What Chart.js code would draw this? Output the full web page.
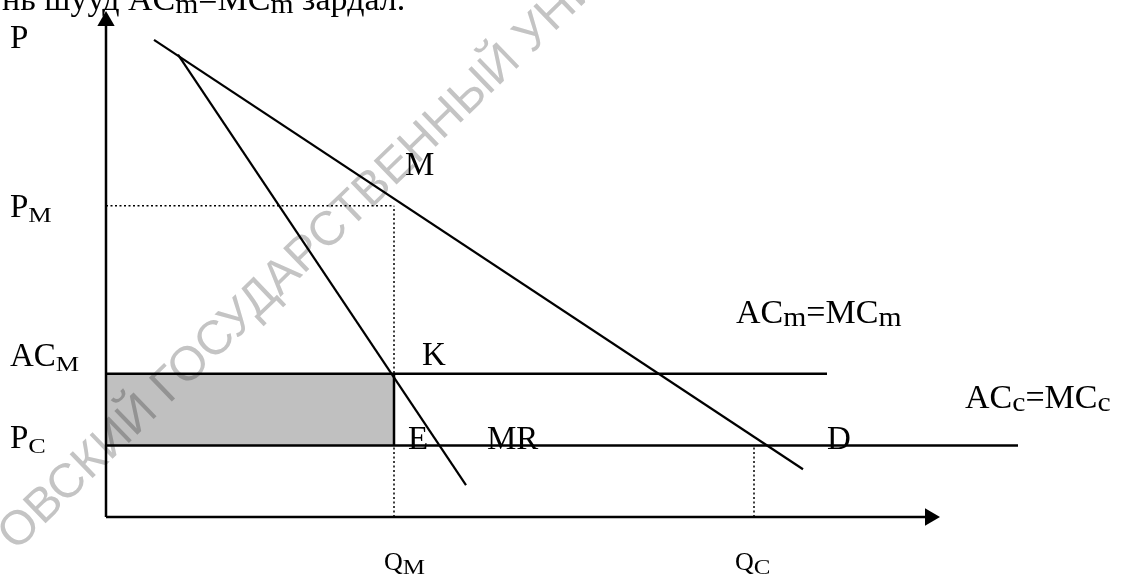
<!DOCTYPE html>
<html>
<head>
<meta charset="utf-8">
<script src="https://cdn.jsdelivr.net/npm/chart.js@4.4.0/dist/chart.umd.min.js"></script>
<style>
    html, body { margin: 0; padding: 0; background: #fff; }
    #wrap { width: 1121px; height: 580px; }
</style>
</head>
<body>
<div id="wrap"><canvas id="chart" width="1121" height="580"></canvas></div>
<script>
// Monopoly vs. competitive market (values in chart units, origin at axes corner)
const demandQ = [4.8, 69.7];
const demandP = [48.0, 4.8];
const mrQ = [7.2, 36.0];
const mrP = [46.5, 3.2];
const costLevels = [14.4, 7.2];        // AC_M = MC_M, P_C = AC_c = MC_c
const costLineEnds = [72.1, 91.2];
const priceMonopoly = 31.3;
const qMonopoly = 28.8;
const qCompetitive = 64.8;
const axisEnds = [82.4, 49.9];         // centres of the x / y arrowheads

// Text labels: parts are [text, isSubscript], anchored in chart units
const labelItems = [
    { parts: [['P']], x: -9.6, y: 47.2, style: 'big' },
    { parts: [['P'], ['M', 1]], x: -9.6, y: 30.2, style: 'big' },
    { parts: [['AC'], ['M', 1]], x: -9.6, y: 15.2, style: 'big' },
    { parts: [['P'], ['C', 1]], x: -9.6, y: 6.9, style: 'big' },
    { parts: [['M']], x: 29.9, y: 34.4, style: 'big' },
    { parts: [['K']], x: 31.6, y: 15.3, style: 'big' },
    { parts: [['E']], x: 30.2, y: 6.8, style: 'big' },
    { parts: [['MR']], x: 38.1, y: 6.8, style: 'big' },
    { parts: [['D']], x: 72.1, y: 6.8, style: 'big' },
    { parts: [['AC'], ['m', 1], ['=MC'], ['m', 1]], x: 63.0, y: 19.5, style: 'eq' },
    { parts: [['AC'], ['c', 1], ['=MC'], ['c', 1]], x: 85.9, y: 11.0, style: 'eq' },
    { parts: [['Q'], ['M', 1]], x: 27.8, y: -5.3, style: 'q' },
    { parts: [['Q'], ['C', 1]], x: 62.9, y: -5.3, style: 'q' },
    { parts: [['нь шууд AC'], ['m', 1], ['=MC'], ['m', 1], [' зардал.']], x: -10.4, y: 51.0, style: 'eq' }
];

const labelStyles = {
    big: { size: 33, sub: 21, drop: 5, stretch: 1.25 },
    eq:  { size: 34, sub: 27, drop: 3, stretch: 1.1 },
    q:   { size: 26, sub: 20, drop: 4, stretch: 1.25 }
};

const SERIF = '"Liberation Serif", "Times New Roman", serif';
const SANS = '"Liberation Sans", Arial, sans-serif';

function toPoints(xs, ys) {
    return xs.map((x, i) => ({ x: x, y: ys[i] }));
}

function segment(points, extra) {
    return Object.assign({
        data: points,
        showLine: true,
        borderColor: '#000',
        borderWidth: 2,
        pointRadius: 0,
        clip: false,
        fill: false
    }, extra || {});
}

function arrowHead(point, rotation) {
    return {
        data: [point],
        showLine: false,
        pointStyle: 'triangle',
        pointRadius: 10,
        pointRotation: rotation,
        pointBackgroundColor: '#000',
        pointBorderColor: '#000',
        pointBorderWidth: 0,
        clip: false
    };
}

const dotted = { borderWidth: 1.5, borderDash: [2, 2.5] };

const datasets = [
    // axes
    segment([{ x: 0, y: 0 }, { x: 0, y: axisEnds[1] }], { borderWidth: 2.5 }),
    segment([{ x: 0, y: 0 }, { x: axisEnds[0], y: 0 }], { borderWidth: 2.5 }),
    arrowHead({ x: 0, y: axisEnds[1] }, 0),
    arrowHead({ x: axisEnds[0], y: 0 }, 90),
    // demand and marginal revenue
    segment(toPoints(demandQ, demandP), { borderWidth: 2.2 }),
    segment(toPoints(mrQ, mrP), { borderWidth: 2.2 }),
    // cost lines
    segment([{ x: 0, y: costLevels[0] }, { x: costLineEnds[0], y: costLevels[0] }], { borderWidth: 2.5 }),
    segment([{ x: 0, y: costLevels[1] }, { x: costLineEnds[1], y: costLevels[1] }], { borderWidth: 2.5 }),
    segment([{ x: qMonopoly, y: costLevels[1] }, { x: qMonopoly, y: costLevels[0] }], { borderWidth: 2.5 }),
    // guide lines
    segment([{ x: 0, y: priceMonopoly }, { x: qMonopoly, y: priceMonopoly }], dotted),
    segment([{ x: qMonopoly, y: 0 }, { x: qMonopoly, y: priceMonopoly }], dotted),
    segment([{ x: qCompetitive, y: 0 }, { x: qCompetitive, y: costLevels[1] }], dotted),
    // shaded loss area (drawn first)
    segment([{ x: 0, y: costLevels[0] }, { x: qMonopoly, y: costLevels[0] }], {
        borderWidth: 0,
        fill: { value: costLevels[1] },
        backgroundColor: '#c0c0c0'
    })
];

function drawRich(ctx, parts, x, y, st) {
    let cx = x;
    parts.forEach(([text, sub]) => {
        ctx.save();
        ctx.font = (sub ? st.sub : st.size) + 'px ' + SERIF;
        const w = ctx.measureText(text).width;
        const sx = sub ? st.stretch : 1;
        ctx.translate(cx, y + (sub ? st.drop : 0));
        ctx.scale(sx, 1);
        ctx.fillText(text, 0, 0);
        ctx.restore();
        cx += w * sx;
    });
}

const overlayPlugin = {
    id: 'overlay',
    afterDatasetsDraw(chart) {
        const ctx = chart.ctx;
        // faint scanned watermark
        ctx.save();
        ctx.globalCompositeOperation = 'multiply';
        ctx.translate(16, 552);
        ctx.rotate(-44 * Math.PI / 180);
        ctx.font = '48px ' + SANS;
        ctx.fillStyle = '#c4c4c4';
        ctx.textBaseline = 'alphabetic';
        ctx.fillText('ОВСКИЙ ГОСУДАРСТВЕННЫЙ УНИВЕРСИТЕТ', 0, 0);
        ctx.restore();

        const xs = chart.scales.x;
        const ys = chart.scales.y;
        ctx.save();
        ctx.fillStyle = '#000';
        ctx.textBaseline = 'alphabetic';
        labelItems.forEach(item => {
            drawRich(ctx, item.parts, xs.getPixelForValue(item.x), ys.getPixelForValue(item.y), labelStyles[item.style]);
        });
        ctx.restore();
    }
};

function buildChart() {
    new Chart(document.getElementById('chart').getContext('2d'), {
        type: 'scatter',
        data: { datasets: datasets },
        options: {
            responsive: false,
            animation: false,
            events: [],
            layout: { padding: { left: 106, right: 15, top: 7, bottom: 63 } },
            plugins: {
                legend: { display: false },
                tooltip: { enabled: false }
            },
            scales: {
                x: { type: 'linear', min: 0, max: 100, display: false },
                y: { type: 'linear', min: 0, max: 51, display: false }
            }
        },
        plugins: [overlayPlugin]
    });
}

// make sure the installed fonts are ready before the canvas text is drawn
Promise.all([
    document.fonts.load('33px ' + SERIF, 'PACм'),
    document.fonts.load('48px ' + SANS, 'ОВСКИЙ')
]).then(buildChart, buildChart);
</script>
</body>
</html>
